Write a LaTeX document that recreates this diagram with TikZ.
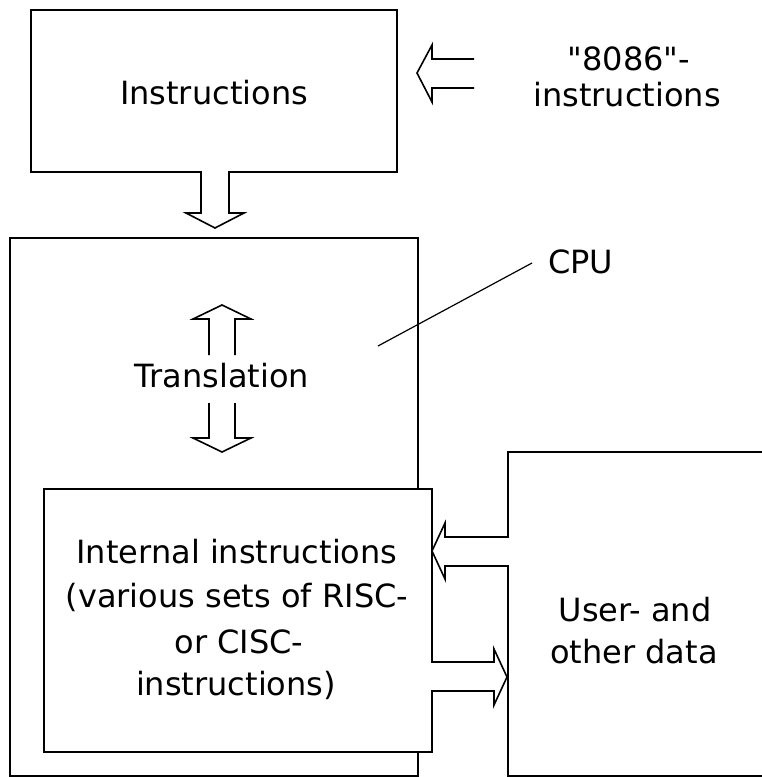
\documentclass[tikz,border=0pt]{standalone}
\usepackage{fontspec}
\setmainfont{DejaVu Sans}[Ligatures=TeXOff]
\begin{document}
\begin{tikzpicture}[x=1pt,y=-1pt,
  box/.style={draw=black, line width=2pt, rectangle, inner sep=0pt, outer sep=0pt, anchor=north west, fill=white},
  hollow/.style={draw=black, line width=1.6pt, line join=miter},
  gap/.style={fill=white},
  lbl/.style={font=\fontsize{32}{38}\selectfont, inner sep=0pt, anchor=base}]
\fill[white] (0,0) rectangle (762,777);
\useasboundingbox (0,0) rectangle (762,777);

% boxes
\node[box, minimum width=366pt, minimum height=162pt] (instr) at (31,10) {};
\node[box, minimum width=408pt, minimum height=538pt] (cpu) at (10,238) {};
\node[box, minimum width=300pt, minimum height=324pt] (user) at (508,452) {};
\node[box, minimum width=388pt, minimum height=263pt] (inner) at (44,489) {};

% gaps in box edges where hollow arrows enter
\fill[gap] (202,169) rectangle (228,175);
\fill[gap] (505,538) rectangle (511,565);
\fill[gap] (429,663) rectangle (435,690);

% hollow arrows
\draw[hollow] (474,59) -- (432,59) -- (432,45) -- (417,73) -- (432,102) -- (432,88) -- (474,88);
\draw[hollow] (201,172) -- (201,213) -- (186,213) -- (215,228) -- (244,213) -- (229,213) -- (229,172);
\draw[hollow] (209,355) -- (209,319) -- (193,319) -- (222,305) -- (251,319) -- (235,319) -- (235,355);
\draw[hollow] (209,403) -- (209,438) -- (193,438) -- (222,452) -- (251,438) -- (235,438) -- (235,403);
\draw[hollow] (508,537) -- (445,537) -- (445,523) -- (432,551) -- (445,579) -- (445,566) -- (508,566);
\draw[hollow] (432,662) -- (494,662) -- (494,649) -- (507,677) -- (494,705) -- (494,691) -- (432,691);

% texts
\node[lbl] (tinstr) at (214,104) {Instructions};
\node[lbl] (t8086a) at (629,70) {"8086"-};
\node[lbl] (t8086b) at (627,106) {instructions};
\node[lbl, anchor=base west] (tcpu) at (548,273) {CPU};
\coordinate (cpuA) at (378,346);
\coordinate (cpuB) at (532,263);
\draw[line width=1.2pt] (cpuA) -- (cpuB);
\node[lbl] (ttrans) at (222,387) {Translation};
\node[lbl] (tin1) at (237,563) {Internal instructions};
\node[lbl] (tin2) at (237,607) {(various sets of RISC-};
\node[lbl] (tin3) at (239,653) {or CISC-};
\node[lbl] (tin4) at (236,695) {instructions)};
\node[lbl] (tuser1) at (635,621) {User- and};
\node[lbl] (tuser2) at (634,663) {other data};
\end{tikzpicture}
\end{document}
